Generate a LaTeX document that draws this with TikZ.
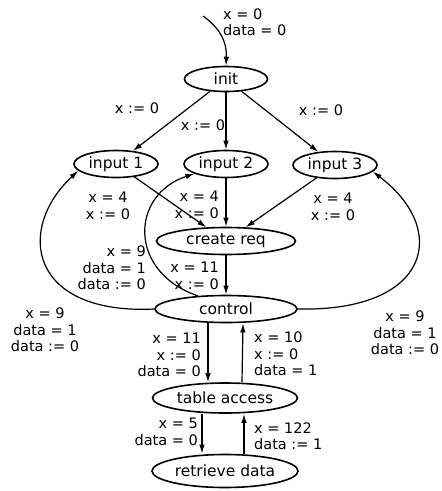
\documentclass[tikz,border=0pt]{standalone}
\usepackage{fontspec}
\setmainfont{DejaVu Sans}
\usetikzlibrary{shapes.geometric}
\usetikzlibrary{positioning}
\usetikzlibrary{arrows.meta}
\begin{document}
\begin{tikzpicture}
		[
			x = 1pt, y = -1pt,
			state/.style = {ellipse, draw = black, line width = 1.6pt, inner sep = 0pt, minimum height = 27pt, font = \fontsize{15.5}{17}\selectfont},
			guard/.style = {inner sep = 0pt, font = \fontsize{14.5}{16.5}\selectfont},
			trans/.style = {-{Latex[length = 9pt, width = 5.5pt]}, line width = 1.2pt},
		]
			%
			\useasboundingbox (0,0) rectangle (442,491);
			%
			\node (init) [state, minimum width = 83pt, minimum height = 25pt] at (226,79) {init};
			\node (input1) [state, minimum width = 84pt] at (116,164) {input 1};
			\node (input2) [state, minimum width = 84pt] at (226,164) {input 2};
			\node (input3) [state, minimum width = 84pt] at (335,165) {input 3};
			\node (create) [state, minimum width = 139pt] at (226,241) {create req};
			\node (control) [state, minimum width = 142pt] at (226,309) {control};
			\node (table) [state, minimum width = 145pt, minimum height = 30pt] at (225,398) {table access};
			\node (retrieve) [state, minimum width = 146pt, minimum height = 33pt] at (225,471) {retrieve data};
			%
			\coordinate (entry) at (203,16);
			%
			\draw [trans] (entry) .. controls (220,28) and (227,42) .. (init.north);
			\draw [trans] (init) -- (input1);
			\draw [trans] (init) -- (input2);
			\draw [trans] (init) -- (input3);
			\draw [trans] (input1) -- (create);
			\draw [trans] (input2) -- (create);
			\draw [trans] (input3) -- (create);
			\draw [trans] (create) -- (control);
			%
			\draw [trans] (control.west) .. controls (30,315) and (15,230) .. (input1.190);
			\draw [trans] (control.east) .. controls (430,312) and (450,230) .. (input3.-10);
			\draw [trans] (control.155) .. controls (128,272) and (130,195) .. (input2.197);
			%
			\draw [trans] ([xshift = -18pt]control.south) -- ([xshift = -17pt]table.north);
			\draw [trans] ([xshift = 17pt]table.north) -- ([xshift = 17pt]control.south);
			\draw [trans] ([xshift = -23pt]table.south) -- ([xshift = -23pt]retrieve.north);
			\draw [trans] ([xshift = 19pt]retrieve.north) -- ([xshift = 19pt]table.south);
			%
			\node (g0) [guard, anchor = west, align = left] at (223,22) {x = 0\\data = 0};
			\node (gA) [guard] at (137,108) {x := 0};
			\node (gB) [guard] at (203,125) {x := 0};
			\node (gC) [guard] at (321,110) {x := 0};
			\node (gD) [guard, align = center] at (108,206) {x = 4\\x := 0};
			\node (gE) [guard, anchor = east, align = right] at (219,205) {x = 4\\x := 0};
			\node (gF) [guard, align = center] at (333,207) {x = 4\\x := 0};
			\node (gG) [guard, anchor = east, align = right] at (219,276) {x = 11\\x := 0};
			\node (gH) [guard, anchor = east, align = right] at (146,268) {x = 9\\data = 1\\data := 0};
			\node (gI) [guard, align = center] at (45,330) {x = 9\\data = 1\\data := 0};
			\node (gJ) [guard, align = center] at (405,333) {x = 9\\data = 1\\data := 0};
			\node (gK) [guard, anchor = east, align = right] at (201,355) {x = 11\\x := 0\\data = 0};
			\node (gL) [guard, anchor = west, align = left] at (254,354) {x = 10\\x := 0\\data = 1};
			\node (gM) [guard, anchor = east, align = right] at (198,432) {x = 5\\data = 0};
			\node (gN) [guard, anchor = west, align = left] at (254,436) {x = 122\\data := 1};
			%
		\end{tikzpicture}
\end{document}
